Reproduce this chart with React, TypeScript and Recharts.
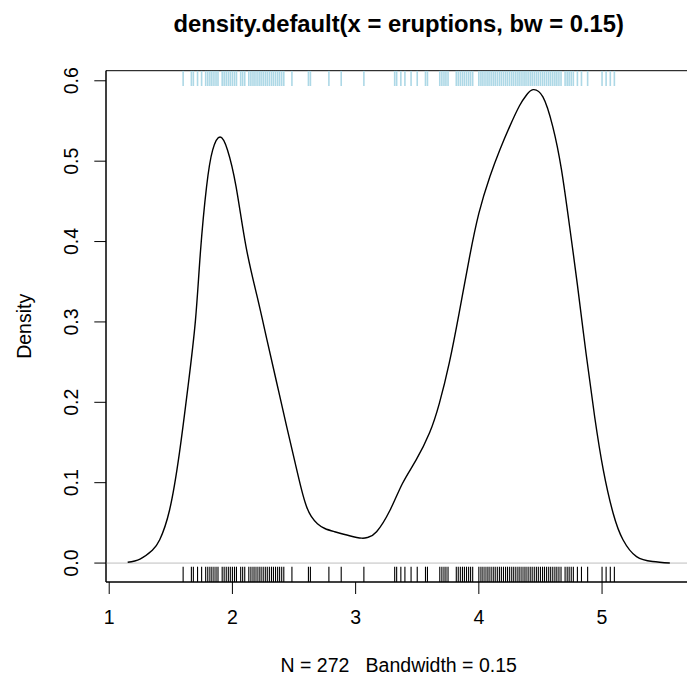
import {
  ComposedChart,
  Customized,
  Line,
  ReferenceArea,
  ReferenceLine,
  Scatter,
  XAxis,
  YAxis
} from "recharts";

// density curve (x = eruption minutes, y = density)
const densityX = [
  1.15, 1.25, 1.35, 1.41, 1.49, 1.57, 1.64, 1.7, 1.74, 1.79, 1.84, 1.9, 1.96, 2.03, 2.11, 2.2, 2.28,
  2.36, 2.44, 2.51, 2.56, 2.6, 2.64, 2.69, 2.75, 2.83, 2.95, 3.05, 3.1, 3.17, 3.28, 3.38, 3.49, 3.6,
  3.68, 3.76, 3.84, 3.92, 4.0, 4.09, 4.17, 4.25, 4.33, 4.39, 4.44, 4.52, 4.6, 4.67, 4.74, 4.8, 4.87,
  4.94, 5.01, 5.09, 5.17, 5.28, 5.41, 5.55
];
const densityY = [
  0.001, 0.005, 0.016, 0.029, 0.066, 0.137, 0.22, 0.302, 0.386, 0.468, 0.514, 0.53, 0.514, 0.468,
  0.394, 0.332, 0.278, 0.224, 0.17, 0.124, 0.092, 0.071, 0.058, 0.049, 0.043, 0.039, 0.034, 0.031,
  0.032, 0.039, 0.066, 0.099, 0.128, 0.162, 0.199, 0.249, 0.311, 0.377, 0.435, 0.481, 0.514, 0.543,
  0.569, 0.583, 0.589, 0.58, 0.543, 0.49, 0.415, 0.346, 0.261, 0.182, 0.116, 0.062, 0.029, 0.008,
  0.002, 0.0
];

// rug positions (distinct eruption values seen in the rug)
const eruptionRug = [
  1.6, 1.667, 1.683, 1.717, 1.75, 1.783, 1.8, 1.817, 1.833, 1.85, 1.867, 1.883, 1.917, 1.933, 1.95,
  1.967, 1.983, 2.0, 2.017, 2.033, 2.067, 2.083, 2.1, 2.133, 2.15, 2.167, 2.183, 2.2, 2.217, 2.233,
  2.25, 2.267, 2.283, 2.3, 2.317, 2.333, 2.35, 2.367, 2.383, 2.4, 2.417, 2.483, 2.617, 2.633, 2.783,
  2.883, 3.067, 3.317, 3.333, 3.367, 3.4, 3.45, 3.5, 3.567, 3.583, 3.683, 3.7, 3.717, 3.733, 3.75,
  3.817, 3.833, 3.85, 3.867, 3.883, 3.9, 3.917, 3.933, 3.95, 4.0, 4.017, 4.033, 4.05, 4.067, 4.083,
  4.1, 4.117, 4.133, 4.15, 4.167, 4.183, 4.2, 4.217, 4.233, 4.25, 4.267, 4.283, 4.3, 4.317, 4.333,
  4.35, 4.367, 4.383, 4.4, 4.417, 4.433, 4.45, 4.467, 4.483, 4.5, 4.517, 4.533, 4.55, 4.567, 4.583,
  4.6, 4.617, 4.633, 4.65, 4.667, 4.7, 4.717, 4.733, 4.75, 4.767, 4.8, 4.833, 4.883, 5.0, 5.033,
  5.067, 5.1
];

const xTicks = [1, 2, 3, 4, 5];
const yTicks = [0, 0.1, 0.2, 0.3, 0.4, 0.5, 0.6];

const titleText = "density.default(x = eruptions, bw = 0.15)";
const xLabel = "N = 272   Bandwidth = 0.15";
const yLabel = "Density";

const xDomain: [number, number] = [0.974, 5.726];
const yDomain: [number, number] = [-0.02356, 0.61256];

const font = "'Liberation Sans', Arial, Helvetica, sans-serif";

const densityRows = densityX.map((x, i) => ({ x, y: densityY[i] }));
const bottomRug = eruptionRug.map((x) => ({ x, y: yDomain[0] }));
const topRug = eruptionRug.map((x) => ({ x, y: yDomain[1] }));

function XTick({ x, y, payload }: any) {
  return (
    <text x={x} y={y + 30} textAnchor="middle" fontSize={19.5} fontFamily={font} fill="#000">
      {payload.value}
    </text>
  );
}

function YTick({ x, y, payload }: any) {
  const bx = x - 16;
  return (
    <text
      x={bx}
      y={y}
      transform={`rotate(-90 ${bx} ${y})`}
      textAnchor="middle"
      fontSize={19.5}
      fontFamily={font}
      fill="#000"
    >
      {payload.value.toFixed(1)}
    </text>
  );
}

function Titles() {
  return (
    <g fontFamily={font} fill="#000">
      <text x={398.7} y={32} textAnchor="middle" fontSize={23.8} fontWeight="bold">
        {titleText}
      </text>
      <text x={398.7} y={672} textAnchor="middle" fontSize={19.5} style={{ whiteSpace: "pre" }}>
        {xLabel}
      </text>
      <text x={31} y={326.3} transform="rotate(-90 31 326.3)" textAnchor="middle" fontSize={19.5}>
        {yLabel}
      </text>
    </g>
  );
}

const bottomTick = (props: any) => (
  <line x1={props.cx} x2={props.cx} y1={props.cy} y2={props.cy - 15.3} stroke="#000" strokeWidth={1.1} />
);

const topTick = (props: any) => (
  <line x1={props.cx} x2={props.cx} y1={props.cy} y2={props.cy + 15.3} stroke="#add8e6" strokeWidth={1.6} />
);

export default function App() {
  return (
    <div style={{ position: "absolute", left: 0, top: 0, width: 687, height: 684, overflow: "hidden", background: "#fff" }}>
      <ComposedChart
        width={692}
        height={684}
        data={densityRows}
        margin={{ top: 70.7, right: 0.5, bottom: 42, left: 0 }}
      >
        <XAxis
          dataKey="x"
          type="number"
          domain={xDomain}
          allowDataOverflow
          ticks={xTicks}
          interval={0}
          tickSize={12}
          tickMargin={0}
          height={60}
          tick={XTick}
          axisLine={{ stroke: "#000" }}
          tickLine={{ stroke: "#000" }}
        />
        <YAxis
          dataKey="y"
          type="number"
          domain={yDomain}
          allowDataOverflow
          ticks={yTicks}
          interval={0}
          width={106}
          tickSize={11.7}
          tickMargin={0}
          tick={YTick}
          axisLine={{ stroke: "#000" }}
          tickLine={{ stroke: "#000" }}
        />
        <ReferenceArea
          x1={xDomain[0]}
          x2={xDomain[1]}
          y1={yDomain[0]}
          y2={yDomain[1]}
          fill="none"
          stroke="#000"
          strokeWidth={1}
        />
        <ReferenceLine y={0} stroke="#bebebe" strokeWidth={1} />
        <Scatter data={bottomRug} shape={bottomTick} isAnimationActive={false} />
        <Scatter data={topRug} shape={topTick} isAnimationActive={false} />
        <Line
          dataKey="y"
          type="natural"
          dot={false}
          activeDot={false}
          stroke="#000"
          strokeWidth={1.4}
          isAnimationActive={false}
        />
        <Customized component={Titles} />
      </ComposedChart>
    </div>
  );
}
